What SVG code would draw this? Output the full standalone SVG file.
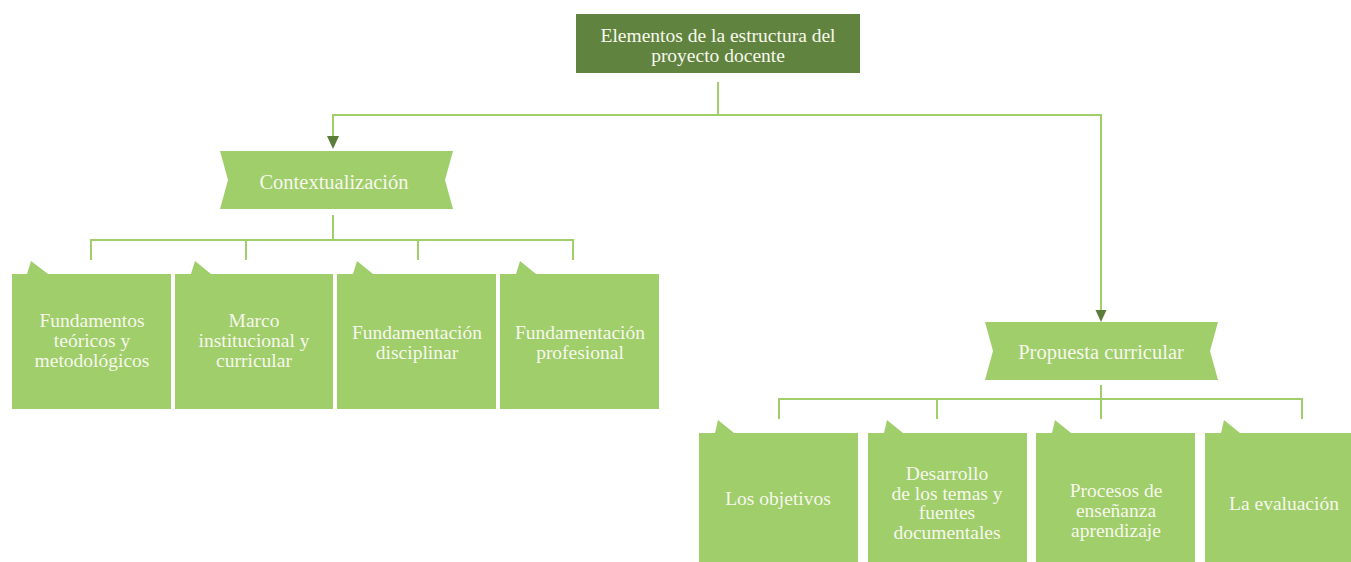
<svg xmlns="http://www.w3.org/2000/svg" width="1351" height="562" viewBox="0 0 1351 562">
<defs>
<style>
.lbl{font-family:"Liberation Serif","Times New Roman",serif;font-size:19.5px;fill:#f7f7ec;text-anchor:middle}
.box{fill:#9fce6b}
.dark{fill:#60843f}
.ln{stroke:#9fce6b;stroke-width:2;fill:none}
.ah{fill:#5a7d3a}
</style>
</defs>
<rect width="1351" height="562" fill="#ffffff"/>
<g id="connectors">
<polyline class="ln" points="718,82 718,115"/>
<polyline class="ln" points="333,137 333,115 1101,115 1101,311"/>
<polygon class="ah" points="327,136 339,136 333,149"/>
<polygon class="ah" points="1095.5,310 1106.5,310 1101,322"/>
<polyline class="ln" points="333,215 333,240"/>
<polyline class="ln" points="91,260 91,240 573,240 573,260"/>
<polyline class="ln" points="246,240 246,260"/>
<polyline class="ln" points="418,240 418,260"/>
<polyline class="ln" points="1101,385 1101,419"/>
<polyline class="ln" points="779,419 779,399 1302,399 1302,419"/>
<polyline class="ln" points="937,399 937,419"/>
</g>
<g id="root">
<rect class="dark" x="576" y="14" width="284" height="59"/>
<text class="lbl" x="718" y="42">Elementos de la estructura del</text>
<text class="lbl" x="718" y="62">proyecto docente</text>
</g>
<g id="contextualizacion">
<polygon class="box" points="220,151 453,151 445,180 453,209 220,209 228,180"/>
<text class="lbl" x="334" y="189" style="font-size:20.5px">Contextualización</text>
</g>
<g id="fundamentos">
<polygon class="box" points="12,274 27,274 31,261 48,274 171,274 171,409 12,409"/>
<text class="lbl" x="92" y="327">Fundamentos</text>
<text class="lbl" x="92" y="347">teóricos y</text>
<text class="lbl" x="92" y="367">metodológicos</text>
</g>
<g id="marco">
<polygon class="box" points="175,274 191,274 195,261 211,274 333,274 333,409 175,409"/>
<text class="lbl" x="254" y="327">Marco</text>
<text class="lbl" x="254" y="347">institucional y</text>
<text class="lbl" x="254" y="367">curricular</text>
</g>
<g id="disciplinar">
<polygon class="box" points="337,274 353,274 357,261 373,274 496,274 496,409 337,409"/>
<text class="lbl" x="417" y="339">Fundamentación</text>
<text class="lbl" x="417" y="359">disciplinar</text>
</g>
<g id="profesional">
<polygon class="box" points="500,274 516,274 520,261 536,274 659,274 659,409 500,409"/>
<text class="lbl" x="580" y="339">Fundamentación</text>
<text class="lbl" x="580" y="359">profesional</text>
</g>
<g id="propuesta">
<polygon class="box" points="985,322 1218,322 1210,351 1218,380 985,380 993,351"/>
<text class="lbl" x="1101" y="359" style="font-size:20.5px">Propuesta curricular</text>
</g>
<g id="objetivos">
<polygon class="box" points="699,433 715,433 718,420 734,433 858,433 858,562 699,562"/>
<text class="lbl" x="778" y="505">Los objetivos</text>
</g>
<g id="desarrollo">
<polygon class="box" points="868,433 884,433 887,420 903,433 1027,433 1027,562 868,562"/>
<text class="lbl" x="947" y="480">Desarrollo</text>
<text class="lbl" x="947" y="500">de los temas y</text>
<text class="lbl" x="947" y="519">fuentes</text>
<text class="lbl" x="947" y="539">documentales</text>
</g>
<g id="procesos">
<polygon class="box" points="1036,433 1052,433 1055,420 1071,433 1195,433 1195,562 1036,562"/>
<text class="lbl" x="1116" y="497">Procesos de</text>
<text class="lbl" x="1116" y="517">enseñanza</text>
<text class="lbl" x="1116" y="537">aprendizaje</text>
</g>
<g id="evaluacion">
<polygon class="box" points="1205,433 1221,433 1224,420 1240,433 1364,433 1364,562 1205,562"/>
<text class="lbl" x="1284" y="510">La evaluación</text>
</g>
</svg>
